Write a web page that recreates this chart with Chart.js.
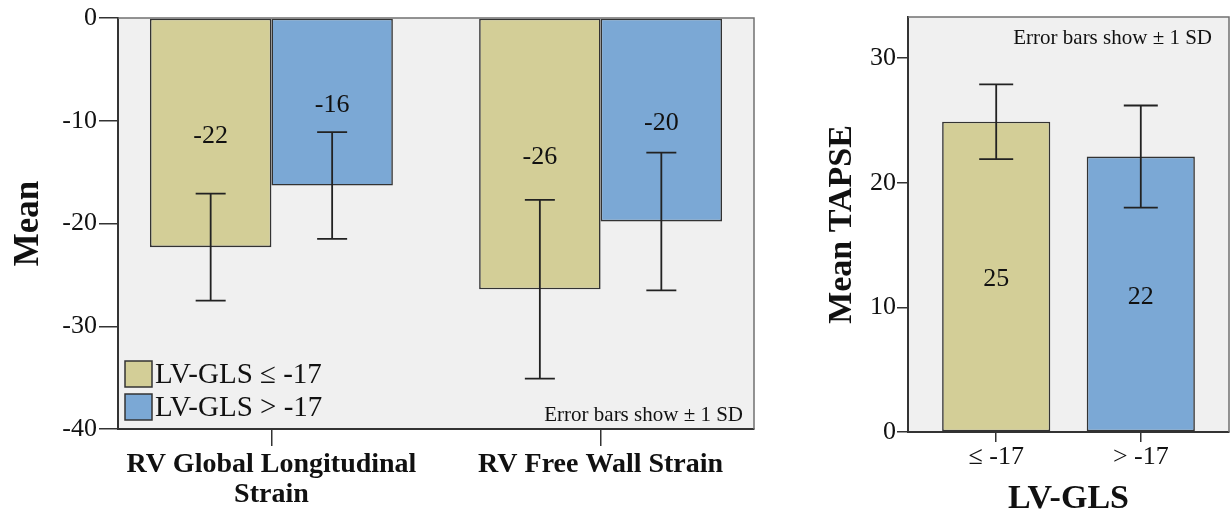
<!DOCTYPE html>
<html>
<head>
<meta charset="utf-8">
<script src="https://cdn.jsdelivr.net/npm/chart.js@4.4.1/dist/chart.umd.min.js"></script>
<style>
  body { margin: 0; background: #fff; }
  #left { position: absolute; left: 0; top: 0; width: 800px; height: 515px; }
  #right { position: absolute; left: 800px; top: 0; width: 430px; height: 515px; }
</style>
</head>
<body>
<div id="left"><canvas id="strainChart"></canvas></div>
<div id="right"><canvas id="tapseChart"></canvas></div>
<script>
// left panel: RV strain by LV-GLS group
const strainCategories = [['RV Global Longitudinal', 'Strain'], 'RV Free Wall Strain'];
const groupLabels = ['LV-GLS \u2264 -17', 'LV-GLS > -17'];
const strainMeanLow = [-22.3, -26.4];
const strainSdLow = [5.2, 8.7];
const strainMeanHigh = [-16.3, -19.8];
const strainSdHigh = [5.2, 6.7];
const strainTicks = [-40, -30, -20, -10, 0];

// right panel: TAPSE by LV-GLS group
const tapseCategories = ['\u2264 -17', '> -17'];
const tapseMean = [24.9, 22.1];
const tapseSd = [3.0, 4.1];
const tapseTicks = [0, 10, 20, 30];

const yellow = '#d3ce97';
const blue = '#7ba8d5';
const serif = "'Liberation Serif', 'Times New Roman', serif";
const ink = '#111';

const asPoints = vals => vals.map((v, i) => ({ x: i + 1, y: v }));

// grey plot background + frame on top/right
const plotFrame = {
    id: 'plotFrame',
    beforeDraw(chart) {
        const a = chart.chartArea, ctx = chart.ctx;
        ctx.save();
        ctx.fillStyle = '#f0f0f0';
        ctx.fillRect(a.left, a.top, a.right - a.left, a.bottom - a.top);
        ctx.restore();
    },
    beforeDatasetsDraw(chart) {
        const a = chart.chartArea, ctx = chart.ctx;
        ctx.save();
        ctx.strokeStyle = '#707070';
        ctx.lineWidth = 1.5;
        ctx.beginPath();
        ctx.moveTo(a.left, a.top);
        ctx.lineTo(a.right, a.top);
        ctx.lineTo(a.right, a.bottom);
        ctx.stroke();
        ctx.restore();
    }
};

// error bars, value labels, note text and inner legend
const errorBars = {
    id: 'errorBars',
    afterDatasetsDraw(chart, args, opts) {
        const ctx = chart.ctx, a = chart.chartArea, yScale = chart.scales.y;
        ctx.save();
        chart.data.datasets.forEach((ds, d) => {
            const meta = chart.getDatasetMeta(d);
            meta.data.forEach((bar, i) => {
                const m = ds.data[i].y, s = ds.sd[i];
                const hi = yScale.getPixelForValue(m + s);
                const lo = yScale.getPixelForValue(m - s);
                // value label in the middle of the bar
                ctx.fillStyle = ink;
                ctx.font = '26px ' + serif;
                ctx.textAlign = 'center';
                ctx.textBaseline = 'middle';
                ctx.fillText(String(Math.round(m)), bar.x, (bar.y + bar.base) / 2 + 3);
                ctx.strokeStyle = '#222';
                ctx.lineWidth = 1.8;
                ctx.beginPath();
                ctx.moveTo(bar.x, hi); ctx.lineTo(bar.x, lo);
                ctx.moveTo(bar.x - opts.cap / 2, hi); ctx.lineTo(bar.x + opts.cap / 2, hi);
                ctx.moveTo(bar.x - opts.cap / 2, lo); ctx.lineTo(bar.x + opts.cap / 2, lo);
                ctx.stroke();
            });
        });

        ctx.fillStyle = ink;
        ctx.font = '21px ' + serif;
        ctx.textAlign = 'right';
        ctx.textBaseline = 'middle';
        const noteY = opts.noteTop ? a.top + 21 : a.bottom - 14;
        ctx.fillText('Error bars show \u00b1 1 SD', a.right - opts.noteInset, noteY);

        if (opts.legend) {
            chart.data.datasets.forEach((ds, d) => {
                const top = a.bottom - 68 + d * 33;
                ctx.fillStyle = ds.backgroundColor;
                ctx.fillRect(a.left + 7, top, 27, 26);
                ctx.strokeStyle = '#333';
                ctx.lineWidth = 1.5;
                ctx.strokeRect(a.left + 7, top, 27, 26);
                ctx.fillStyle = ink;
                ctx.font = '29px ' + serif;
                ctx.textAlign = 'left';
                ctx.fillText(ds.label, a.left + 37, top + 14);
            });
        }
        ctx.restore();
    }
};

function axisGrid(len) {
    return { drawOnChartArea: false, drawTicks: true, tickLength: len, color: '#333', lineWidth: 1.5, offset: false };
}

new Chart(document.getElementById('strainChart'), {
    type: 'bar',
    data: {
        datasets: [
            { label: groupLabels[0], data: asPoints(strainMeanLow), sd: strainSdLow, backgroundColor: yellow },
            { label: groupLabels[1], data: asPoints(strainMeanHigh), sd: strainSdHigh, backgroundColor: blue }
        ]
    },
    options: {
        responsive: true,
        maintainAspectRatio: false,
        animation: false,
        layout: { padding: { top: 18, right: 46, bottom: 0, left: 0 } },
        datasets: { bar: { borderColor: '#333', borderWidth: 1.6, borderSkipped: false, categoryPercentage: 0.738, barPercentage: 1 } },
        plugins: {
            legend: { display: false },
            tooltip: { enabled: false },
            errorBars: { cap: 30, noteInset: 11, noteTop: false, legend: true }
        },
        scales: {
            x: {
                type: 'linear', offset: false, min: 0.534, max: 2.466,
                afterBuildTicks: s => { s.ticks = strainCategories.map((c, i) => ({ value: i + 1 })); },
                grid: axisGrid(17),
                border: { color: '#333', width: 2 },
                ticks: {
                    callback: v => strainCategories[v - 1],
                    font: { family: serif, size: 28, weight: 'bold', lineHeight: 1.07 },
                    color: ink, padding: 4, maxRotation: 0, autoSkip: false
                },
                afterFit: s => { s.height = 86; }
            },
            y: {
                min: -40, max: 0,
                afterBuildTicks: s => { s.ticks = strainTicks.map(v => ({ value: v })); },
                grid: axisGrid(19),
                border: { color: '#333', width: 2 },
                ticks: { font: { family: serif, size: 26 }, color: ink, padding: 2 },
                title: {
                    display: true, text: 'Mean', color: ink,
                    font: { family: serif, size: 35, weight: 'bold', lineHeight: 1 },
                    padding: { top: 11, bottom: 0 }
                },
                afterFit: s => { s.width = 118; }
            }
        }
    },
    plugins: [plotFrame, errorBars]
});

new Chart(document.getElementById('tapseChart'), {
    type: 'bar',
    data: {
        datasets: [
            { label: 'TAPSE', data: asPoints(tapseMean), sd: tapseSd, backgroundColor: [yellow, blue] }
        ]
    },
    options: {
        responsive: true,
        maintainAspectRatio: false,
        animation: false,
        layout: { padding: { top: 17, right: 1, bottom: 0, left: 0 } },
        datasets: { bar: { borderColor: '#333', borderWidth: 1.6, borderSkipped: false, categoryPercentage: 0.748, barPercentage: 1 } },
        plugins: {
            legend: { display: false },
            tooltip: { enabled: false },
            errorBars: { cap: 34, noteInset: 17, noteTop: true, legend: false }
        },
        scales: {
            x: {
                type: 'linear', offset: false, min: 0.39, max: 2.61,
                afterBuildTicks: s => { s.ticks = tapseCategories.map((c, i) => ({ value: i + 1 })); },
                grid: axisGrid(10),
                border: { color: '#333', width: 2 },
                ticks: {
                    callback: v => tapseCategories[v - 1],
                    font: { family: serif, size: 26 }, color: ink, padding: 0, maxRotation: 0, autoSkip: false
                },
                title: {
                    display: true, text: 'LV-GLS', color: ink,
                    font: { family: serif, size: 34, weight: 'bold', lineHeight: 1 },
                    padding: { top: 0, bottom: -1 }
                },
                afterFit: s => { s.height = 83; }
            },
            y: {
                min: 0, max: 33.3,
                afterBuildTicks: s => { s.ticks = tapseTicks.map(v => ({ value: v })); },
                grid: axisGrid(11),
                border: { color: '#333', width: 2 },
                ticks: { font: { family: serif, size: 26 }, color: ink, padding: 1 },
                title: {
                    display: true, text: 'Mean TAPSE', color: ink,
                    font: { family: serif, size: 34, weight: 'bold', lineHeight: 1 },
                    padding: { top: 25, bottom: 0 }
                },
                afterFit: s => { s.width = 108; }
            }
        }
    },
    plugins: [plotFrame, errorBars]
});
</script>
</body>
</html>
